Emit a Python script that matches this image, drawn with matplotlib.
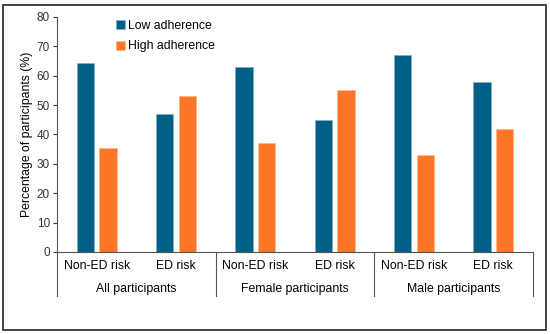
import matplotlib
matplotlib.use("Agg")
import matplotlib.pyplot as plt
import numpy as np
from matplotlib.patches import Rectangle

plt.rcParams['font.family'] = ['Liberation Sans', 'DejaVu Sans']

groups = ["All participants", "Female participants", "Male participants"]
subcats = ["Non-ED risk", "ED risk"]
low_adherence = [64.5, 47, 63, 45, 67, 58]
high_adherence = [35.5, 53, 37, 55, 33, 42]
series_names = ["Low adherence", "High adherence"]
yticks = [0, 10, 20, 30, 40, 50, 60, 70, 80]

blue = "#005F84"
orange = "#FF7629"

fig = plt.figure(figsize=(5.5, 3.34), dpi=100)
ax = fig.add_axes([57/550, 1-252/334, (533-57)/550, (252-17)/334])

n = len(low_adherence)
x = np.arange(n)
w = 0.22
off = 0.142
ax.bar(x - off, low_adherence, w, color=blue, edgecolor="#7fb0c4", linewidth=0.5, label=series_names[0])
ax.bar(x + off, high_adherence, w, color=orange, edgecolor="#ffb38a", linewidth=0.5, label=series_names[1])

ax.set_xlim(-0.5, n - 0.5)
ax.set_ylim(0, 80)
ax.set_yticks(yticks)
ax.tick_params(axis='y', labelsize=8.5, length=3, width=0.8, colors="#333333", pad=2)
ax.tick_params(axis='x', length=0, labelsize=8.8, pad=6)
ax.set_xticks(x)
ax.set_xticklabels(subcats * len(groups))
ax.set_ylabel("Percentage of participants (%)", fontsize=8.8, labelpad=3)

for s in ["top", "right"]:
    ax.spines[s].set_visible(False)
ax.spines["left"].set_color("#555555")
ax.spines["bottom"].set_color("#555555")
ax.spines["left"].set_linewidth(0.8)
ax.spines["bottom"].set_linewidth(0.8)

trans = ax.get_xaxis_transform()
depth = -(296 - 252) / 235
for b in [-0.5, 1.5, 3.5, 5.5]:
    ax.plot([b, b], [0, depth], transform=trans, color="#555555", lw=0.8, clip_on=False)
for i, g in enumerate(groups):
    ax.text(2 * i + 0.5, -(289 - 252) / 235, g, transform=trans, ha="center", va="center", fontsize=8.8)

leg = ax.legend(loc="upper left", bbox_to_anchor=(0.10, 1.035), frameon=False, fontsize=8.8,
                handlelength=0.75, handleheight=0.75, handletextpad=0.25, labelspacing=0.7)

fig.patches.append(Rectangle((3/550, 4/334), 543/550, 325/334, transform=fig.transFigure,
                             fill=False, edgecolor="#222222", linewidth=1.2))

fig.savefig("out.png", dpi=100)
